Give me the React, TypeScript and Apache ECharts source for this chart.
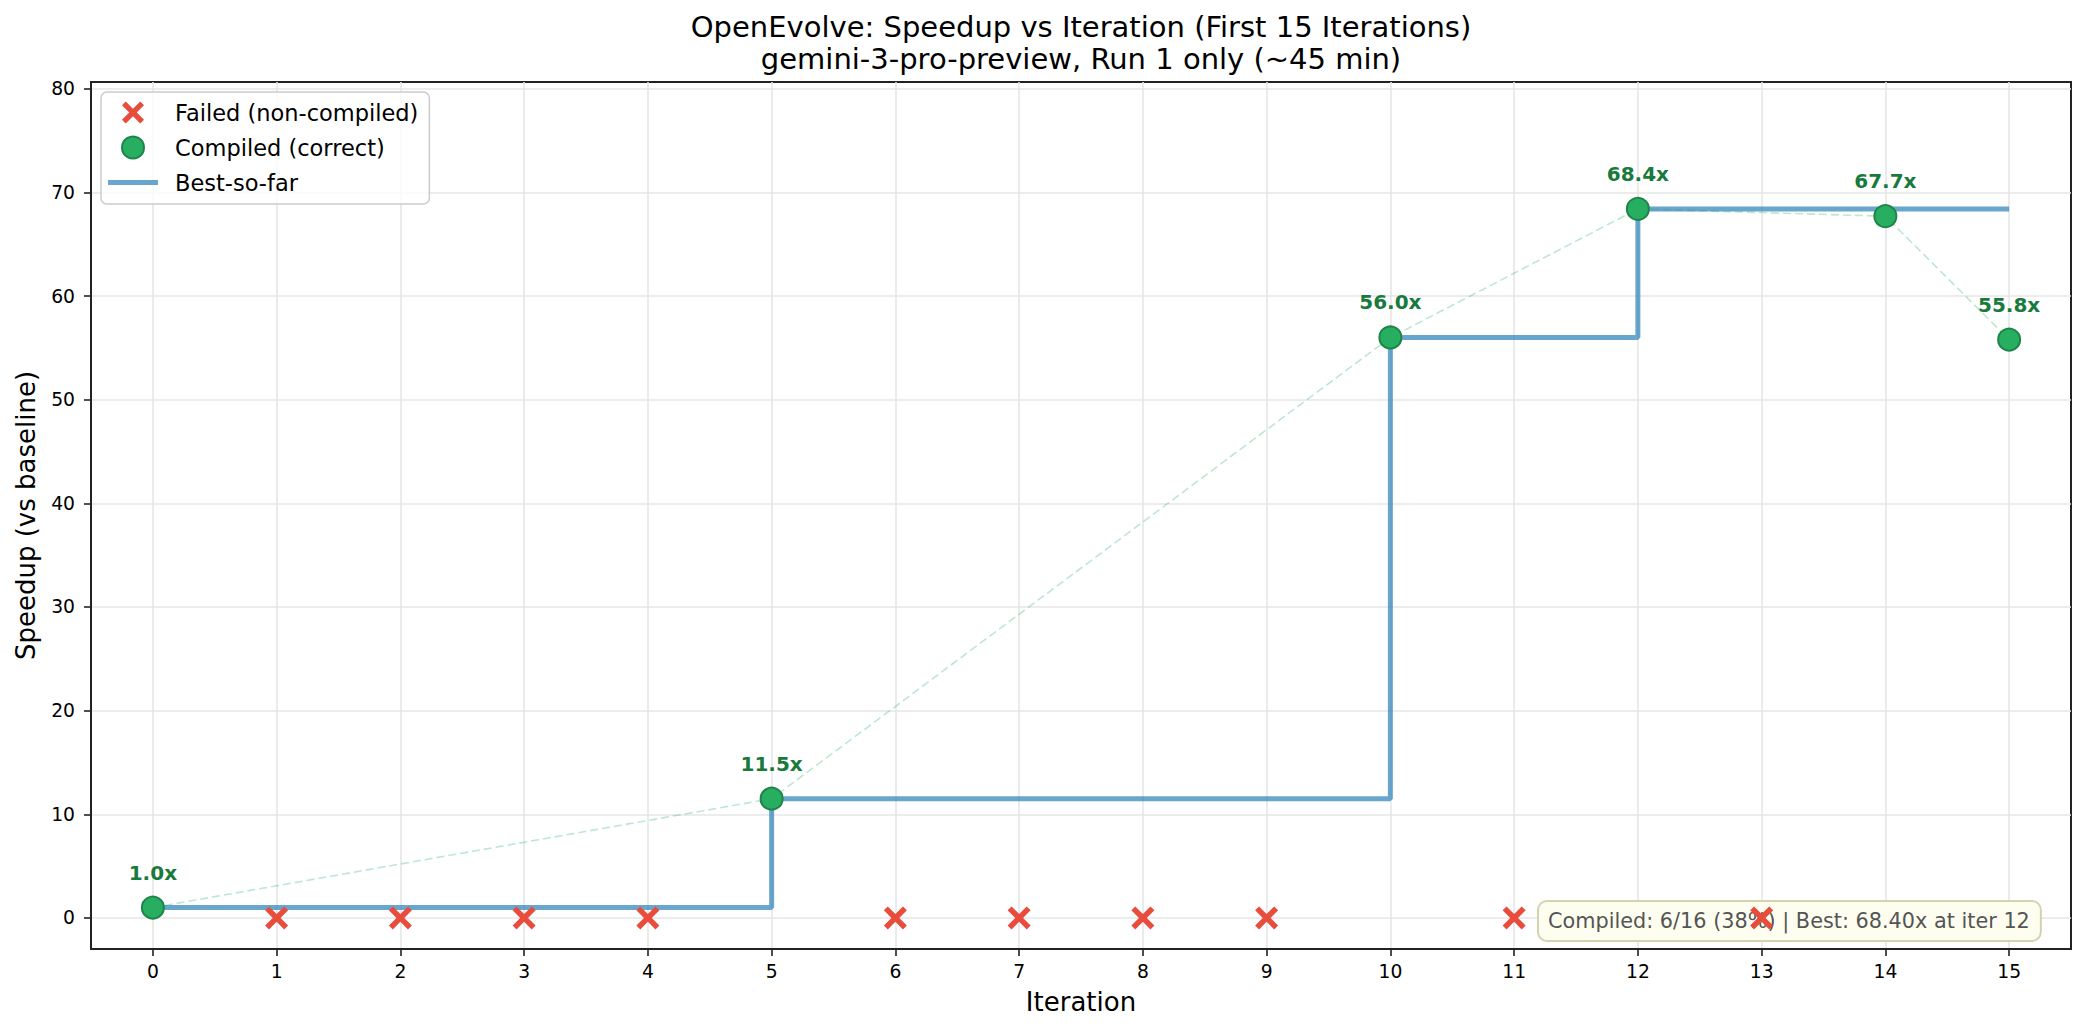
import React, { useEffect, useRef } from "react";
import * as echarts from "echarts";

const titleLines = [
  "OpenEvolve: Speedup vs Iteration (First 15 Iterations)",
  "gemini-3-pro-preview, Run 1 only (~45 min)",
];
const iterations = [0, 1, 2, 3, 4, 5, 6, 7, 8, 9, 10, 11, 12, 13, 14, 15];
const bestSoFar = [1.0, 1.0, 1.0, 1.0, 1.0, 11.5, 11.5, 11.5, 11.5, 11.5, 56.0, 56.0, 68.4, 68.4, 68.4, 68.4];
const compiledIters = [0, 5, 10, 12, 14, 15];
const compiledSpeedups = [1.0, 11.5, 56.0, 68.4, 67.7, 55.8];
const failedIters = [1, 2, 3, 4, 6, 7, 8, 9, 11, 13];
const failedSpeedups = [0, 0, 0, 0, 0, 0, 0, 0, 0, 0];
const xTicks = [0, 1, 2, 3, 4, 5, 6, 7, 8, 9, 10, 11, 12, 13, 14, 15];
const yTicks = [0, 10, 20, 30, 40, 50, 60, 70, 80];
const summaryText = "Compiled: 6/16 (38%) | Best: 68.40x at iter 12";

const FONT = "DejaVu Sans";
const XPATH =
  "path://M0,17L17,0L50,33L83,0L100,17L67,50L100,83L83,100L50,67L17,100L0,83L33,50Z";
const LINEPATH = "path://M0,0L50,0L50,5L0,5Z";

export default function App() {
  const ref = useRef<HTMLDivElement>(null);
  useEffect(() => {
    document.body.style.margin = "0";
    if (!ref.current) return;
    const chart = echarts.init(ref.current, undefined, { renderer: "svg" });
    const axisCommon = {
      type: "value" as const,
      axisLine: { show: true, onZero: false, lineStyle: { color: "#222", width: 2 } },
      axisTick: { show: true, inside: false, length: 7, lineStyle: { color: "#222", width: 1.6 } },
      splitLine: { show: true, lineStyle: { color: "#e6e6e6", width: 1.6 } },
      nameLocation: "middle" as const,
      nameTextStyle: { fontSize: 26, color: "#000", fontFamily: FONT },
    };
    chart.setOption({
      animation: false,
      backgroundColor: "#ffffff",
      textStyle: { fontFamily: FONT },
      title: {
        text: titleLines.join("\n"),
        left: 1081,
        top: 11,
        padding: 0,
        textAlign: "center",
        textStyle: { fontSize: 29, fontWeight: "normal", color: "#000", lineHeight: 32, fontFamily: FONT },
      },
      grid: {
        left: 91,
        top: 82,
        width: 1980,
        height: 867,
        show: true,
        borderColor: "#222",
        borderWidth: 2,
        backgroundColor: "transparent",
        containLabel: false,
      },
      legend: {
        left: 101,
        top: 92,
        orient: "vertical",
        itemWidth: 50,
        itemHeight: 22,
        itemGap: 11.5,
        padding: [9, 11, 10, 7],
        backgroundColor: "rgba(255,255,255,0.8)",
        borderColor: "#cccccc",
        borderWidth: 1.5,
        borderRadius: 6,
        textStyle: { fontSize: 22.5, color: "#000", fontFamily: FONT, padding: [0, 0, 0, 12] },
        data: [
          { name: "Failed (non-compiled)", icon: XPATH, itemStyle: { color: "#e74c3c", borderWidth: 0 } },
          { name: "Compiled (correct)", icon: "circle", itemStyle: { color: "#27ae60", borderColor: "#1e8449", borderWidth: 2 } },
          { name: "Best-so-far", icon: LINEPATH, itemStyle: { color: "rgba(41,128,185,0.7)", borderWidth: 0 } },
        ],
      },
      xAxis: {
        ...axisCommon,
        min: -0.5,
        max: 15.5,
        name: "Iteration",
        nameGap: 40,
        axisTick: { ...axisCommon.axisTick, customValues: xTicks },
        axisLabel: { customValues: xTicks, fontSize: 18.75, color: "#000", margin: 13, fontFamily: FONT },
      },
      yAxis: {
        ...axisCommon,
        min: -3,
        max: 80.65,
        name: "Speedup (vs baseline)",
        nameGap: 52,
        axisTick: { ...axisCommon.axisTick, customValues: yTicks },
        axisLabel: { customValues: yTicks, fontSize: 18.75, color: "#000", margin: 16, fontFamily: FONT },
      },
      graphic: [
        {
          type: "text",
          x: 1539,
          y: 902,
          z: 1,
          silent: true,
          style: {
            text: summaryText,
            fontSize: 20.8,
            fontFamily: FONT,
            fill: "#555555",
            backgroundColor: "#fefef0",
            borderColor: "#d3d3b0",
            borderWidth: 2,
            borderRadius: 8,
            padding: [8, 10, 8, 9],
            lineHeight: 22,
            align: "left",
            verticalAlign: "top",
          },
        },
      ],
      series: [
        {
          name: "trend",
          type: "line",
          data: compiledIters.map((x, i) => [x, compiledSpeedups[i]]),
          showSymbol: false,
          silent: true,
          z: 1,
          lineStyle: { color: "rgba(39,174,96,0.3)", width: 1.6, type: [8, 4] },
          itemStyle: { color: "rgba(39,174,96,0.3)" },
        },
        {
          name: "Best-so-far",
          type: "line",
          step: "end",
          data: iterations.map((x, i) => [x, bestSoFar[i]]),
          showSymbol: false,
          z: 2,
          lineStyle: { color: "rgba(41,128,185,0.7)", width: 5 },
          itemStyle: { color: "rgba(41,128,185,0.7)" },
        },
        {
          name: "Compiled (correct)",
          type: "scatter",
          data: compiledIters.map((x, i) => [x, compiledSpeedups[i]]),
          symbol: "circle",
          symbolSize: 22,
          z: 3,
          itemStyle: { color: "#27ae60", borderColor: "#1e8449", borderWidth: 2, opacity: 1 },
          label: {
            show: true,
            position: "top",
            distance: 13,
            formatter: (p: any) => `${Number(p.value[1]).toFixed(1)}x`,
            fontSize: 20,
            fontWeight: "bold",
            color: "#187a3c",
            fontFamily: FONT,
          },
        },
        {
          name: "Failed (non-compiled)",
          type: "scatter",
          data: failedIters.map((x, i) => [x, failedSpeedups[i]]),
          symbol: XPATH,
          symbolSize: 23,
          z: 10,
          itemStyle: { color: "#e74c3c", opacity: 1 },
        },
      ],
    });
    return () => chart.dispose();
  }, []);
  return (
    <div
      ref={ref}
      style={{ position: "absolute", left: 0, top: 0, width: 2085, height: 1033 }}
    />
  );
}
